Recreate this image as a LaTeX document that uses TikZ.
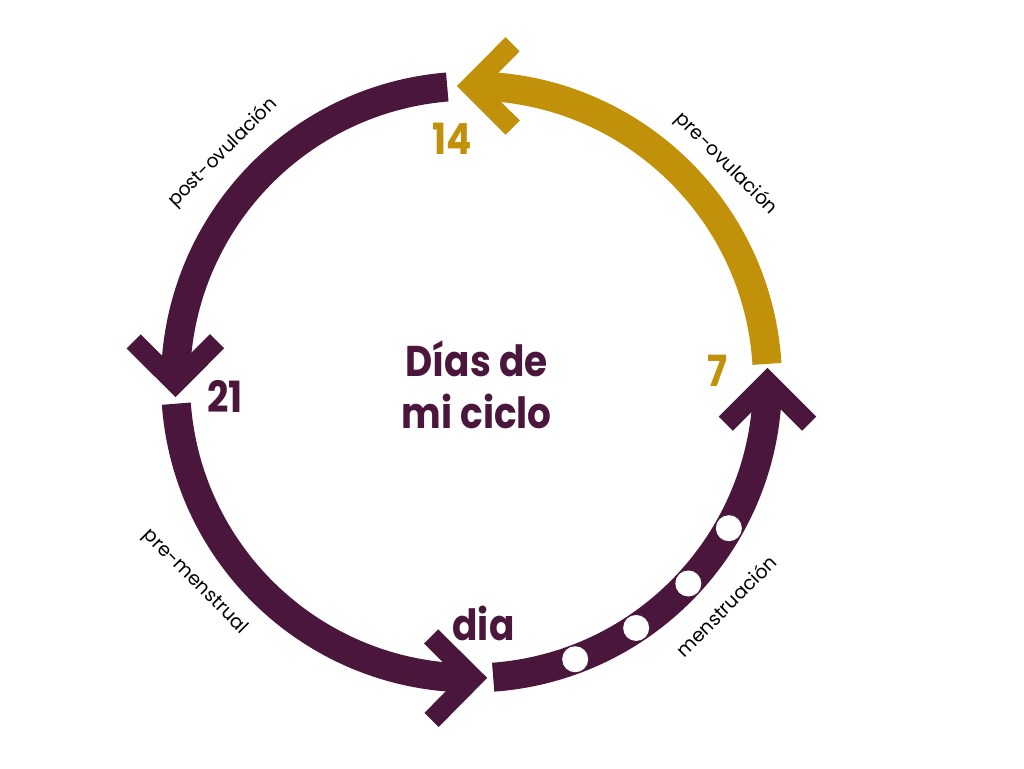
\documentclass[tikz,border=0pt]{standalone}
\usepackage{fontspec}
\setmainfont{Poppins}
\newfontfamily\bigf[FakeStretch=0.87]{Poppins}
\definecolor{plum}{HTML}{4B163C}
\definecolor{gold}{HTML}{C1910A}
\begin{document}
\begin{tikzpicture}[x=1pt,y=1pt,
  band/.style={line width=29pt, line cap=butt},
  head/.style={line width=20pt, line cap=butt, line join=miter},
  small/.style={font=\fontsize{19}{19}\selectfont, text=black, inner sep=0pt},
  big/.style={font=\bigf\bfseries\fontsize{43}{43}\selectfont, inner sep=0pt, anchor=base},
  dot/.style={fill=white, draw=none}]
\fill[white] (0,0) rectangle (1024,768);
\useasboundingbox (0,0) rectangle (1024,768);
\coordinate (C) at (471.5,386);
% arcs
\draw[band, gold] (C) ++(3.5:296) arc[start angle=3.5, end angle=89.6, radius=296];
\draw[band, plum] (C) ++(94.7:296) arc[start angle=94.7, end angle=179.7, radius=296];
\draw[band, plum] (C) ++(184.2:296) arc[start angle=184.2, end angle=269.8, radius=296];
\draw[band, plum] (C) ++(274.2:296) arc[start angle=274.2, end angle=359.5, radius=296];
% arrow heads
\foreach \a/\c in {90.1/gold,180.2/plum,270.3/plum,360/plum}
  \draw[head,\c,shift={(C)},rotate=\a] (254.3,-41.7) -- (296,0) -- (337.7,-41.7);
% dots
\foreach \a [count=\i] in {290.5,303.8,317.1,330.4}
  \fill[dot] (C) ++(\a:296) circle[radius=13];
% labels
\node[small, rotate=45] (postov) at (223,615) {post-ovulación};
\node[small, rotate=-45] (preov) at (726,604) {pre-ovulación};
\node[small, rotate=-45] (premen) at (195,186) {pre-menstrual};
\node[small, rotate=45] (menst) at (726,162) {menstruación};
\node[big, text=gold] (n14) at (452.5,613) {14};
\node[big, text=gold] (n7) at (717,381) {7};
\node[big, text=plum] (n21) at (225,355) {21};
\node[big, text=plum] (dia) at (483.5,128) {dia};
\node[big, text=plum] (t1) at (476.7,391.3) {Días de};
\node[big, text=plum] (t2) at (476.7,339) {mi ciclo};
\end{tikzpicture}
\end{document}
